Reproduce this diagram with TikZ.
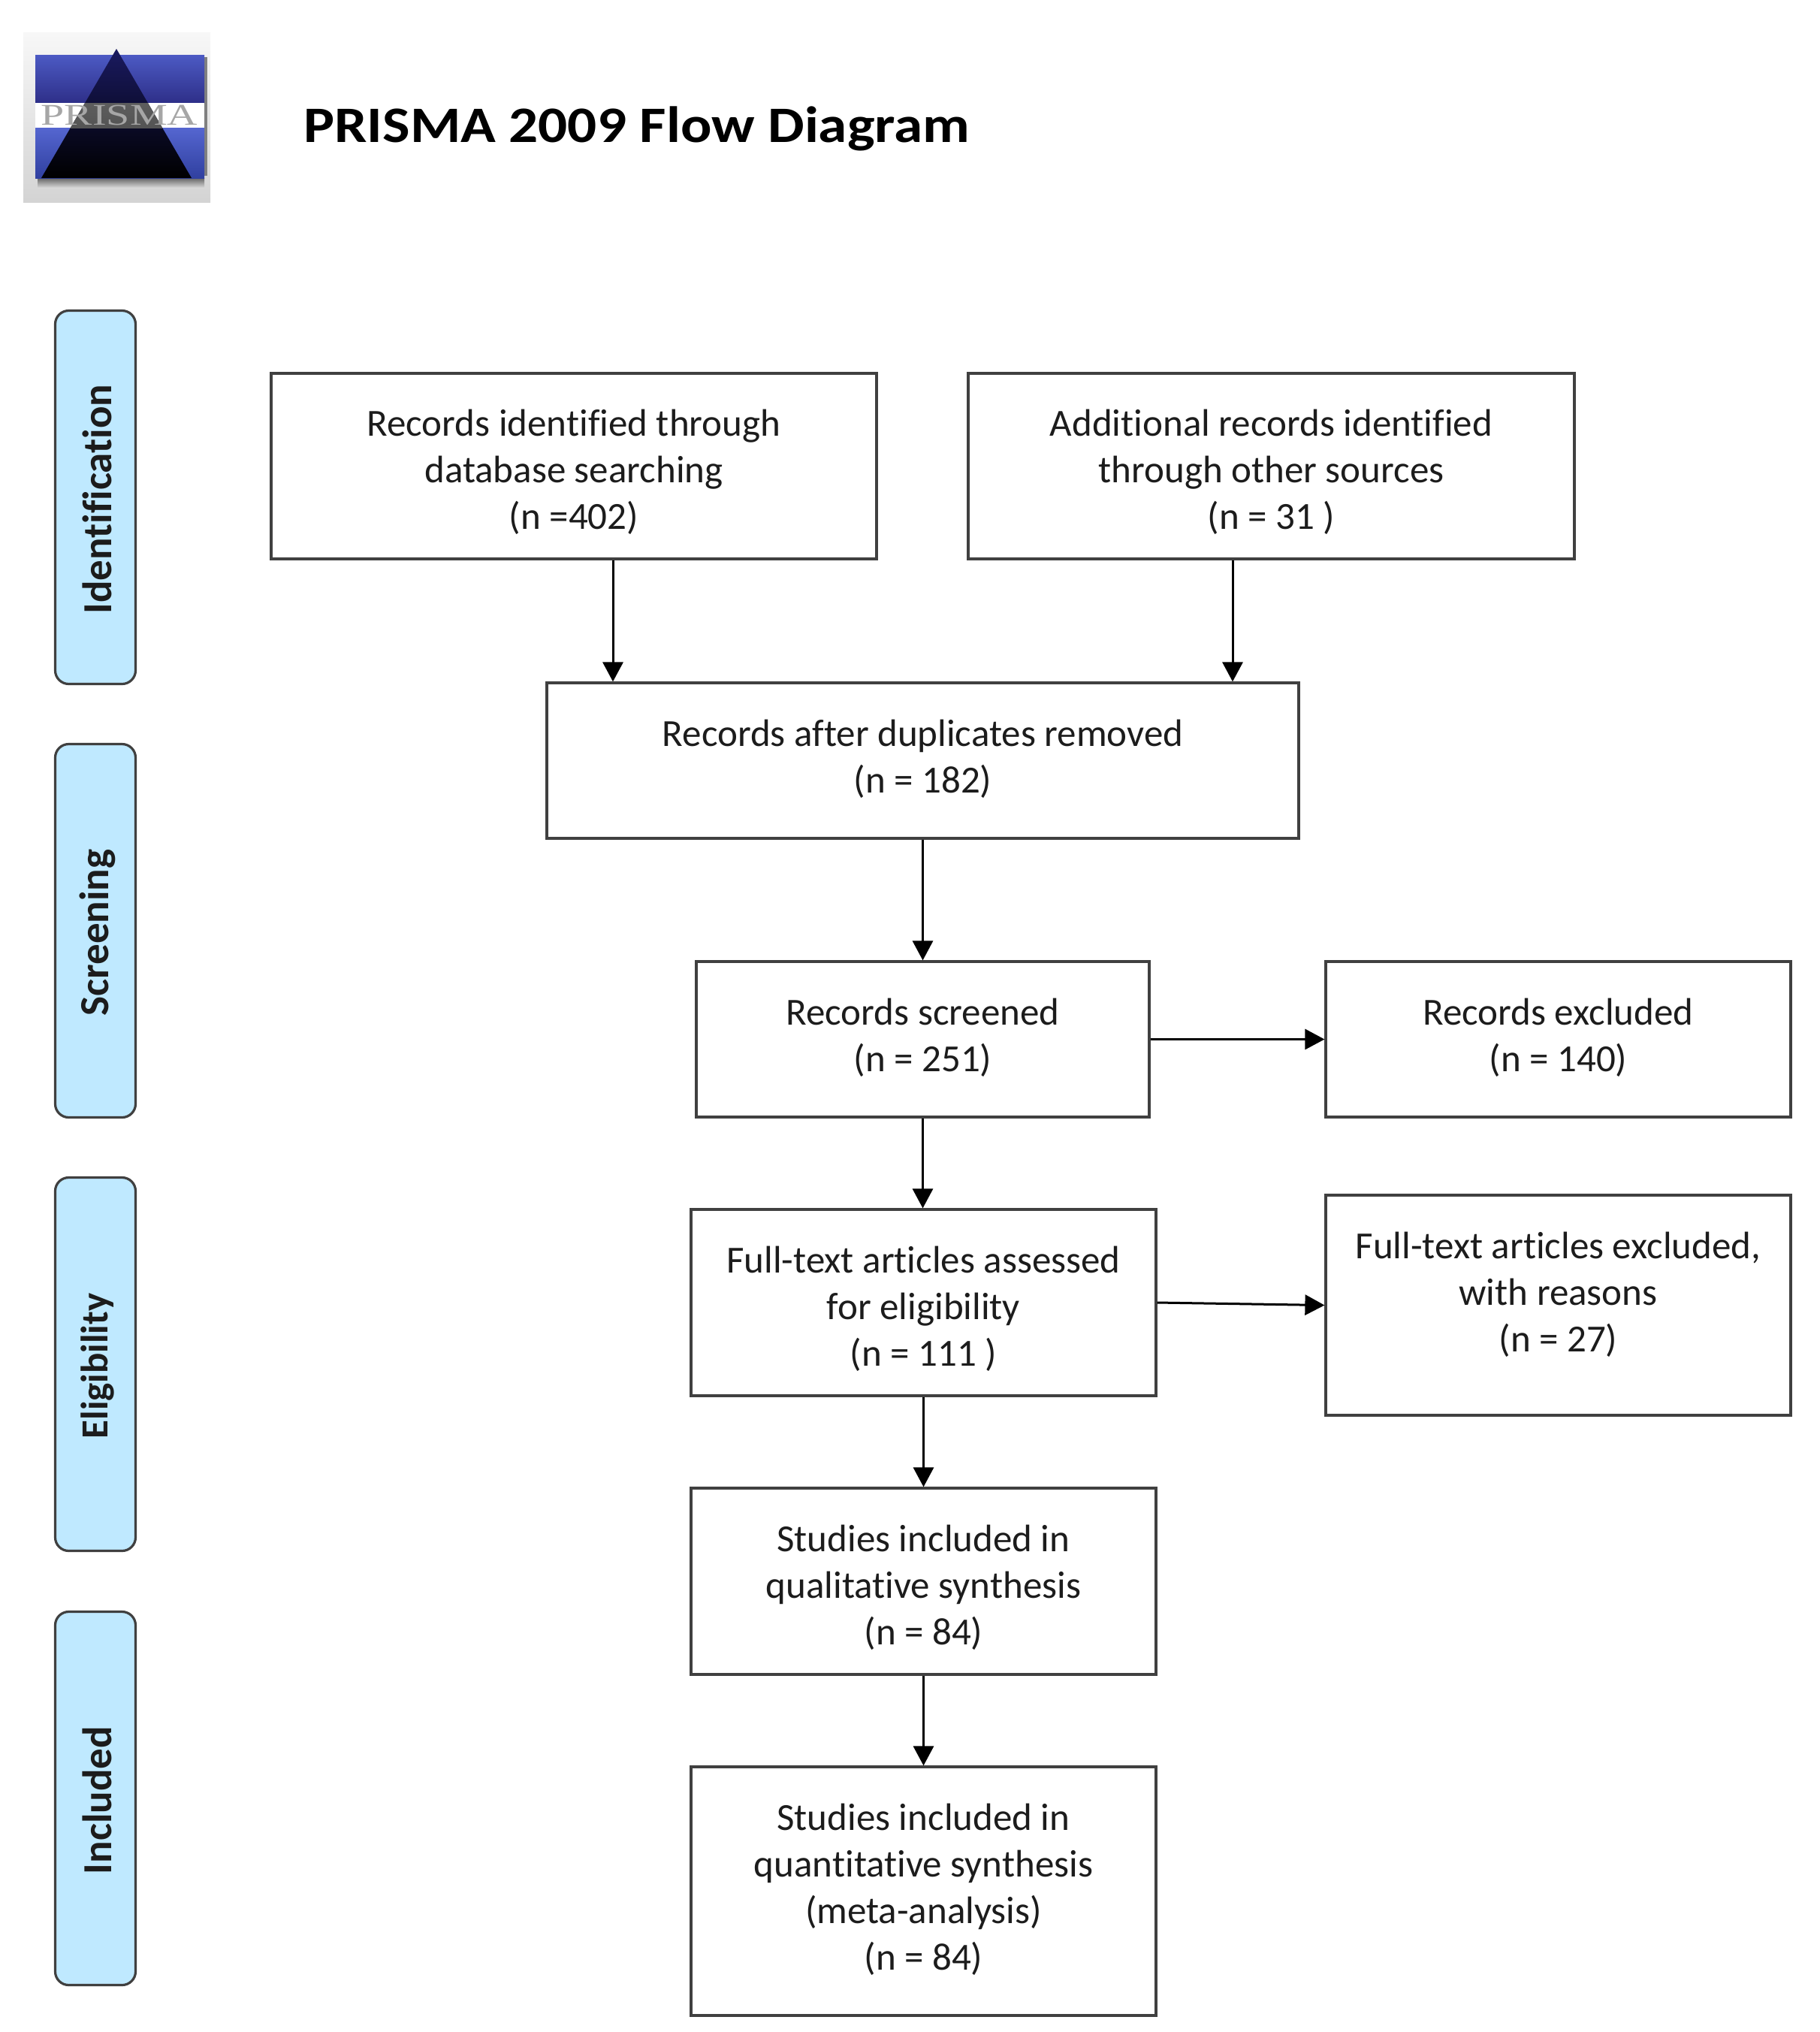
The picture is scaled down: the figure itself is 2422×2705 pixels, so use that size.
\documentclass[tikz,border=0pt]{standalone}
\usepackage{fontspec}
\setmainfont[Ligatures=NoCommon]{Carlito}
\newfontfamily\logofont{Liberation Serif}
\usetikzlibrary{arrows.meta,calc}
\definecolor{sidefill}{HTML}{BFE9FF}
\definecolor{edgegray}{HTML}{404040}
\definecolor{inkdark}{HTML}{1C1C1C}
\definecolor{logoa}{HTML}{4C5AC4}
\definecolor{logob}{HTML}{2E2F88}
\definecolor{logoc}{HTML}{5566D0}
\definecolor{logod}{HTML}{3040A0}
\definecolor{logoe}{HTML}{1A1A60}
\newcommand{\boxtext}[2]{\raisebox{\dimexpr#1pt-2.2pt\relax}[0pt][0pt]{\begin{tabular}[c]{@{}c@{}}#2\end{tabular}}}
\tikzset{
  x=0.5pt,y=-0.5pt,
  flowbox/.style={draw=edgegray,fill=white,line width=1.6pt,rectangle,inner sep=0pt,text=inkdark,
    font=\fontsize{25.5}{31}\selectfont},
  sidebox/.style={draw=edgegray,fill=sidefill,line width=1.6pt,rectangle,rounded corners=9pt,inner sep=0pt,
    minimum width=53.5pt,minimum height=248.5pt},
  sidetext/.style={rotate=90,font=\bfseries\fontsize{27.5}{30}\selectfont,text=inkdark,inner sep=0pt,xshift=-1.3pt,yshift=-1.3pt},
  arr/.style={draw=black,line width=1.5pt,-{Triangle[length=13pt,width=13.5pt]},shorten <=0pt,shorten >=0pt},
}
\newcommand{\bx}[6]{% name, x0, y0, x1, y1, text
  \node[flowbox,minimum width={(#4-#2)*0.5pt},minimum height={(#5-#3)*0.5pt}] (#1) at ({(#2+#4)/2},{(#3+#5)/2}) {#6};}
\begin{document}
\begin{tikzpicture}
\useasboundingbox (0,0) rectangle (2422,2705);
% logo
\shade[top color=black!3,bottom color=black!17] (31,43) rectangle (280,269);
\shade[top color=black!60,bottom color=black!15] (50,237) rectangle (272,250);
\fill[black!50] (272,76) rectangle (276,234);
\shade[top color=logoa,bottom color=logob] (47,73) rectangle (272,137);
\shade[top color=logoc,bottom color=logod] (47,170) rectangle (272,237);
\fill[white] (47,137) rectangle (272,170);
\shade[top color=logoe,bottom color=black] (155,65) -- (255,237) -- (55,237) -- cycle;
\begin{scope}
\clip (47,137) rectangle (272,170);
\shade[top color=black!55,bottom color=black!75] (155,65) -- (255,237) -- (55,237) -- cycle;
\end{scope}
\node[inner sep=0pt,text=black!35,font=\logofont\fontsize{20}{20}\selectfont] (logotext) at (159,153) {\scalebox{1.4}[1]{PRISMA}};
\node[anchor=base west,inner sep=0pt,text=black,font=\bfseries\fontsize{34}{38}\selectfont] (title) at (404,189) {\scalebox{1.135}[1]{PRISMA 2009 Flow Diagram}};
% side
\node[sidebox] (s1) at (127,662) {};
\node[sidetext] at (s1) (t1) {Identification};
\node[sidebox] (s2) at (127,1239) {};
\node[sidetext] at (s2) (t2) {Screening};
\node[sidebox] (s3) at (127,1816) {};
\node[sidetext,font=\bfseries\fontsize{25.5}{30}\selectfont] at (s3) (t3) {Eligibility};
\node[sidebox] (s4) at (127,2394) {};
\node[sidetext] at (s4) (t4) {Included};
% boxes
\bx{A}{361}{497}{1167}{744}{\boxtext{-8.6}{Records identified through\\database searching\\(n =402)}}
\bx{B}{1289}{497}{2096}{744}{\boxtext{-8.6}{Additional records identified\\through other sources\\(n = 31 )}}
\bx{C}{728}{909}{1729}{1116}{\boxtext{-3.9}{Records after duplicates removed\\(n = 182)}}
\bx{D}{927}{1280}{1530}{1487}{\boxtext{-3.9}{Records screened\\(n = 251)}}
\bx{E}{1765}{1280}{2384}{1487}{\boxtext{-3.9}{Records excluded\\(n = 140)}}
\bx{F}{920}{1610}{1539}{1858}{\boxtext{-9}{Full-text articles assessed\\for eligibility\\(n = 111 )}}
\bx{G}{1765}{1591}{2384}{1884}{\boxtext{2.2}{Full-text articles excluded,\\with reasons\\(n = 27)}}
\bx{H}{920}{1981}{1539}{2229}{\boxtext{-9}{Studies included in\\qualitative synthesis\\(n = 84)}}
\bx{I}{920}{2352}{1539}{2683}{\boxtext{-3.9}{Studies included in\\quantitative synthesis\\(meta-analysis)\\(n = 84)}}
% connectors
\coordinate (xa) at (816,0);
\coordinate (xb) at (1641,0);
\draw[arr] (A.south -| xa) -- (C.north -| xa);
\draw[arr] (B.south -| xb) -- (C.north -| xb);
\draw[arr] (C.south -| D.north) -- (D.north);
\draw[arr] (D.east) -- (E.west);
\draw[arr] (D.south) -- (F.north -| D.south);
\draw[arr] (F.east) -- (G.west);
\draw[arr] (F.south) -- (H.north);
\draw[arr] (H.south) -- (I.north);
\end{tikzpicture}
\end{document}
